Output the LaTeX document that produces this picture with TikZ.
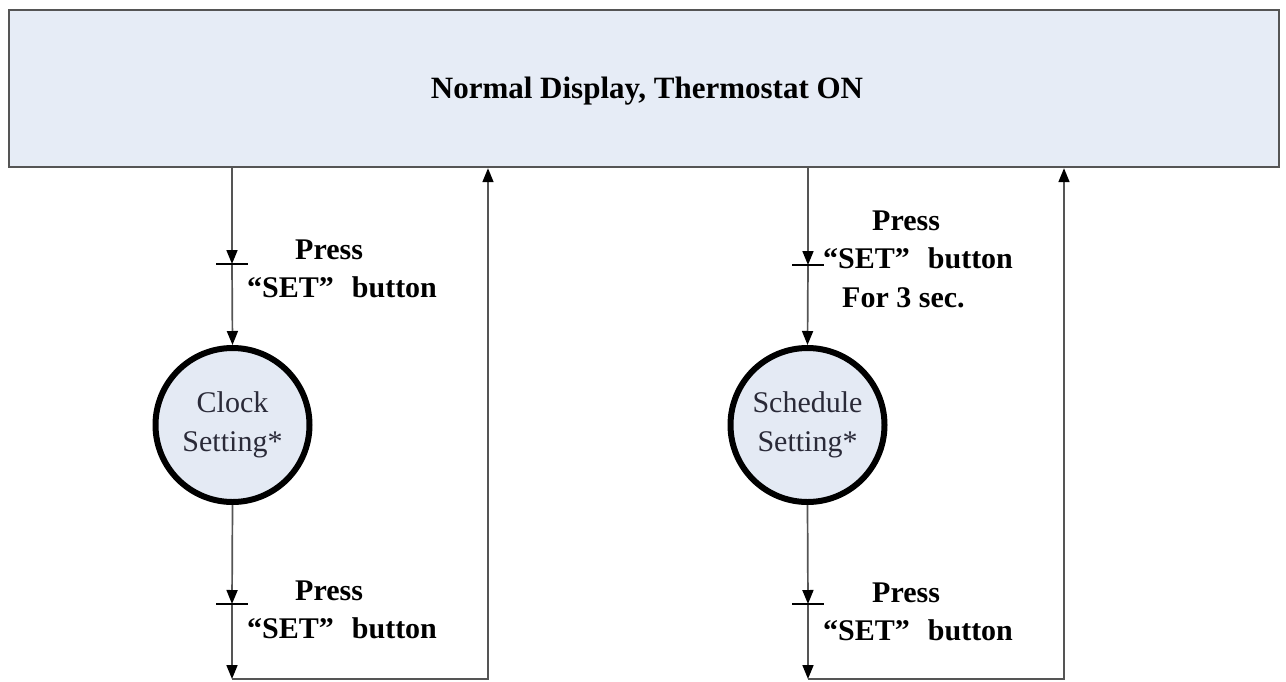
\documentclass[tikz,border=0pt]{standalone}
\usepackage{fontspec}
\setmainfont{Liberation Serif}
\usetikzlibrary{arrows.meta}
\definecolor{boxfill}{HTML}{E6ECF6}
\definecolor{circfill}{HTML}{E4EAF4}
\definecolor{linegray}{HTML}{555555}
\definecolor{txtdark}{HTML}{2A2A38}
\tikzset{
  mainbox/.style={draw=linegray, line width=2.4pt, fill=boxfill, minimum width=1270pt, minimum height=157pt, inner sep=0pt,
    font=\fontsize{31}{36}\selectfont\bfseries},
  state/.style={circle, draw=black, line width=6pt, fill=circfill, minimum size=154pt, inner sep=0pt, align=center,
    text=txtdark, font=\fontsize{30}{39}\selectfont},
  conn/.style={draw=linegray, line width=1.7pt},
  arr/.style={conn, -{Triangle[length=14pt, width=11pt, color=black]}},
  lbl/.style={anchor=base west, inner sep=0pt, font=\fontsize{30}{38}\selectfont\bfseries},
  tickmark/.style={draw=black, line width=1.3pt},
}
\begin{document}
\begin{tikzpicture}[x=1pt, y=-1pt]
\useasboundingbox[fill=white] (0,0) rectangle (1286,681);
\node[mainbox] (box) at (644,88.5) {};
\node[inner sep=0pt, anchor=base, font=\fontsize{31}{36}\selectfont\bfseries] (boxtext) at (647,98) {Normal Display, Thermostat ON};

\node[state] (c1) at (232.5,425) {Clock\\Setting*};
\node[state] (c2) at (807.5,425) {Schedule\\Setting*};

% left branch
\coordinate (t1) at (232,264);
\coordinate (t2) at (232,604);
\coordinate (b1) at (232,679);
\coordinate (u1) at (488,679);
\draw[arr] (box.south -| t1) -- (t1);
\draw[arr] (t1) -- (c1.north);
\draw[arr] (c1.south) -- (t2);
\draw[arr] (t2) -- (b1);
\draw[arr] (b1) -- (u1) -- (box.south -| u1);
\draw[tickmark] ([xshift=-16pt]t1) -- ([xshift=16pt]t1);
\draw[tickmark] ([xshift=-16pt]t2) -- ([xshift=16pt]t2);

% right branch
\coordinate (t3) at (808,265);
\coordinate (t4) at (808,604);
\coordinate (b2) at (808,679);
\coordinate (u2) at (1064,679);
\draw[arr] (box.south -| t3) -- (t3);
\draw[arr] (t3) -- (c2.north);
\draw[arr] (c2.south) -- (t4);
\draw[arr] (t4) -- (b2);
\draw[arr] (b2) -- (u2) -- (box.south -| u2);
\draw[tickmark] ([xshift=-16pt]t3) -- ([xshift=16pt]t3);
\draw[tickmark] ([xshift=-16pt]t4) -- ([xshift=16pt]t4);

% labels
\node[lbl] (l1a) at (295,259) {Press};
\node[lbl] (l1b) at (247,297) {“SET”\hspace{0.6em}button};
\node[lbl] (l2a) at (295,600) {Press};
\node[lbl] (l2b) at (247,638) {“SET”\hspace{0.6em}button};
\node[lbl] (l3a) at (872,230) {Press};
\node[lbl] (l3b) at (823,268) {“SET”\hspace{0.6em}button};
\node[lbl] (l3c) at (842,307) {For 3 sec.};
\node[lbl] (l4a) at (872,602) {Press};
\node[lbl] (l4b) at (823,640) {“SET”\hspace{0.6em}button};
\end{tikzpicture}
\end{document}
